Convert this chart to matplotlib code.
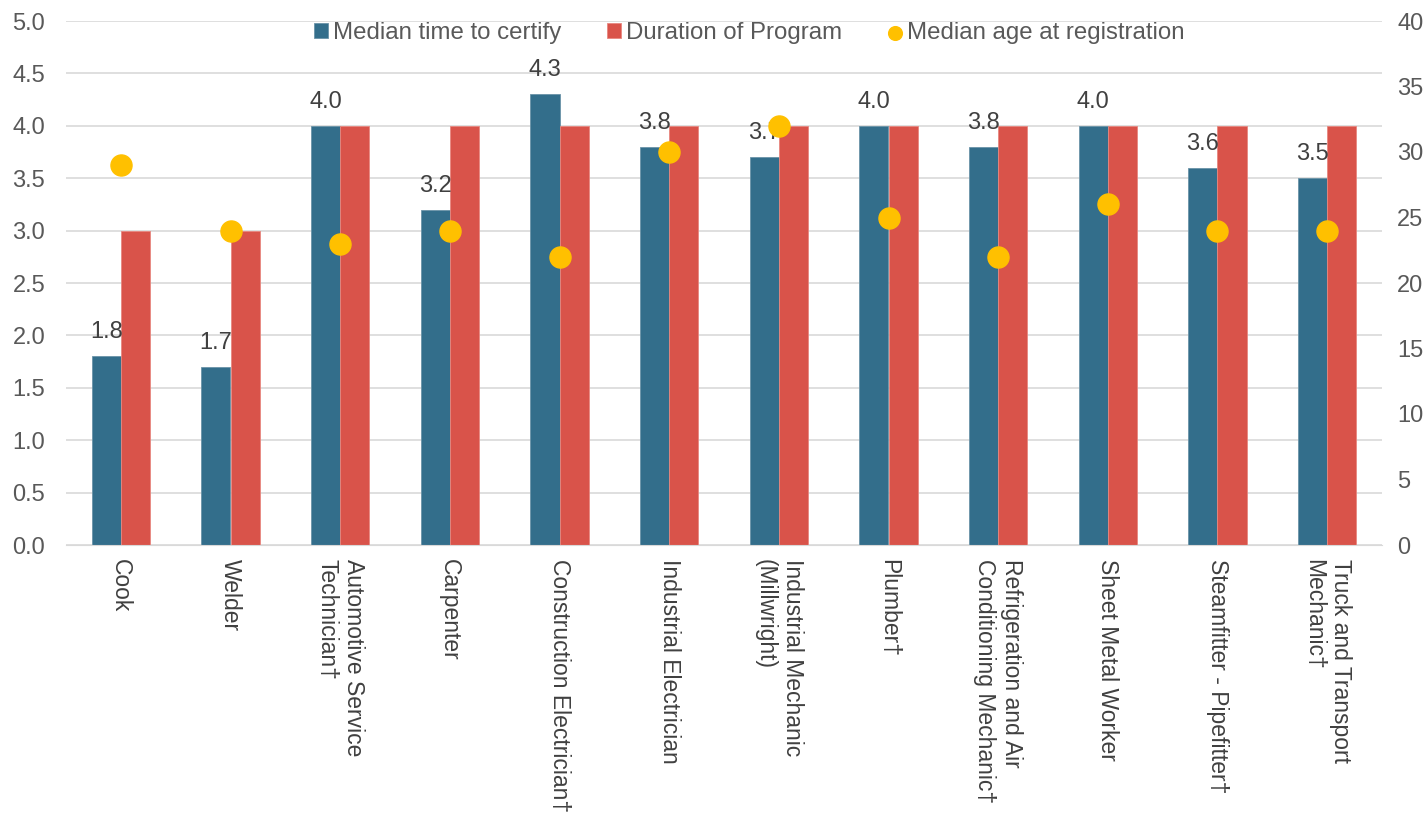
import matplotlib.pyplot as plt
import numpy as np

trades = ['Cook', 'Welder', 'Automotive Service\nTechnician\u2020', 'Carpenter',
          'Construction Electrician\u2020', 'Industrial Electrician',
          'Industrial Mechanic\n(Millwright)', 'Plumber\u2020',
          'Refrigeration and Air\nConditioning Mechanic\u2020', 'Sheet Metal Worker',
          'Steamfitter - Pipefitter\u2020', 'Truck and Transport\nMechanic\u2020']
median_time = [1.8, 1.7, 4.0, 3.2, 4.3, 3.8, 3.7, 4.0, 3.8, 4.0, 3.6, 3.5]
duration = [3, 3, 4, 4, 4, 4, 4, 4, 4, 4, 4, 4]
median_age = [29, 24, 23, 24, 22, 30, 32, 25, 22, 26, 24, 24]

plt.rcParams['font.family'] = 'Liberation Sans'
plt.rcParams['font.size'] = 17

fig = plt.figure(figsize=(14.27, 8.23), dpi=100)
ax = fig.add_axes([66/1427, 1 - 545/823, (1382-66)/1427, (545-21)/823])
ax2 = ax.twinx()

x = np.arange(len(trades))
w = 0.265
b1 = ax.bar(x - w/2, median_time, w, color='#336E8B', edgecolor='#6A93A8', linewidth=0.6,
            label='Median time to certify', zorder=2)
b2 = ax.bar(x + w/2, duration, w, color='#D9534A', edgecolor='#E8877F', linewidth=0.6,
            label='Duration of Program', zorder=2)
for xi, v in zip(x, median_time):
    ax.text(xi - w/2, v + 0.23, '%.1f' % v, ha='center', va='center', color='#404040', fontsize=17)

sc = ax2.scatter(x, median_age, s=230, color='#FFC000', zorder=3, label='Median age at registration')

ax.set_xlim(-0.5, len(trades) - 0.5)
ax.set_ylim(0, 5)
ax.set_yticks(np.arange(0, 5.01, 0.5))
ax.set_yticklabels(['%.1f' % t for t in np.arange(0, 5.01, 0.5)])
ax2.set_ylim(0, 40)
ax2.set_yticks(range(0, 41, 5))

ax.grid(axis='y', color='#D9D9D9', linewidth=1.2, zorder=0)
ax.set_axisbelow(True)
for a in (ax, ax2):
    for s in a.spines.values():
        s.set_visible(False)
    a.tick_params(length=0, colors='#595959', labelsize=17)
ax.spines['bottom'].set_visible(True)
ax.spines['bottom'].set_color('#D9D9D9')
ax.tick_params(axis='y', pad=15)
ax2.tick_params(axis='y', pad=11)

ax.set_xticks(x)
ax.set_xticklabels(trades, rotation=-90, ha='center', va='top', multialignment='left',
                   color='#404040', fontsize=16.5)
ax.tick_params(axis='x', pad=10)

leg = fig.legend([b1, b2, sc], ['Median time to certify', 'Duration of Program', 'Median age at registration'],
                 loc='center', bbox_to_anchor=(749/1427, 1 - 33/823), ncol=3, frameon=False,
                 handlelength=0.6, handleheight=0.6, handletextpad=0.2, columnspacing=1.9,
                 markerscale=0.65, fontsize=17.3)
for t in leg.get_texts():
    t.set_color('#595959')

plt.savefig('out.png', dpi=100)
